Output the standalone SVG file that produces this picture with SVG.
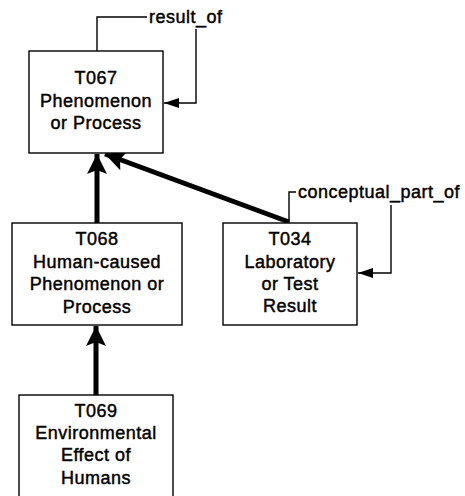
<svg xmlns="http://www.w3.org/2000/svg" width="465" height="496" viewBox="0 0 465 496">
  <style>
    .box { fill: #ffffff; stroke: #000000; stroke-width: 1.4; }
    .lbl { font-family: "Liberation Sans", Arial, sans-serif; font-size: 18px; letter-spacing: 0.5px; fill: #000000; stroke: #000000; stroke-width: 0.45; text-anchor: middle; }
    .rel { font-family: "Liberation Sans", Arial, sans-serif; font-size: 18px; letter-spacing: 0.5px; fill: #000000; stroke: #000000; stroke-width: 0.45; }
    .isa { fill: none; stroke: #000000; stroke-width: 5; }
    .loop { fill: none; stroke: #000000; stroke-width: 1.4; }
  </style>
  <defs>
    <marker id="bigHead" markerUnits="userSpaceOnUse" markerWidth="22" markerHeight="20" refX="20" refY="10" orient="auto">
      <path d="M0,0 L20,10 L0,20 L4,10 Z" fill="#000000"/>
    </marker>
    <marker id="smallHead" markerUnits="userSpaceOnUse" markerWidth="16" markerHeight="10" refX="15" refY="5" orient="auto">
      <path d="M0,0 L15,5 L0,10 Z" fill="#000000"/>
    </marker>
  </defs>
  <rect width="465" height="496" fill="#ffffff"/>

  <g id="connectors">
    <!-- is-a links -->
    <line class="isa" x1="97" y1="223" x2="97" y2="154" marker-end="url(#bigHead)"/>
    <line class="isa" x1="96" y1="395" x2="96" y2="326" marker-end="url(#bigHead)"/>
    <line class="isa" x1="289" y1="222" x2="105" y2="154" marker-end="url(#bigHead)"/>
    <!-- result_of self relation -->
    <path class="loop" d="M97,51 V17 H147"/>
    <text class="rel" x="149" y="23">result_of</text>
    <path class="loop" d="M196,29 V103 H164" marker-end="url(#smallHead)"/>
    <!-- conceptual_part_of self relation -->
    <path class="loop" d="M289,223 V192 H296"/>
    <text class="rel" x="298" y="198">conceptual_part_of</text>
    <path class="loop" d="M391,205 V273 H358" marker-end="url(#smallHead)"/>
  </g>

  <g id="T067">
    <rect class="box" x="29" y="51" width="134" height="102"/>
    <text class="lbl" x="96" y="84">T067</text>
    <text class="lbl" x="96" y="107">Phenomenon</text>
    <text class="lbl" x="96" y="129">or Process</text>
  </g>

  <g id="T068">
    <rect class="box" x="12" y="223" width="170" height="102"/>
    <text class="lbl" x="97" y="245">T068</text>
    <text class="lbl" x="97" y="268">Human-caused</text>
    <text class="lbl" x="97" y="290">Phenomenon or</text>
    <text class="lbl" x="97" y="313">Process</text>
  </g>

  <g id="T034">
    <rect class="box" x="223" y="223" width="134" height="102"/>
    <text class="lbl" x="290" y="245">T034</text>
    <text class="lbl" x="290" y="268">Laboratory</text>
    <text class="lbl" x="290" y="290">or Test</text>
    <text class="lbl" x="290" y="312">Result</text>
  </g>

  <g id="T069">
    <rect class="box" x="19" y="395" width="154" height="110"/>
    <text class="lbl" x="96" y="417">T069</text>
    <text class="lbl" x="96" y="439">Environmental</text>
    <text class="lbl" x="96" y="461">Effect of</text>
    <text class="lbl" x="96" y="484">Humans</text>
  </g>
</svg>
